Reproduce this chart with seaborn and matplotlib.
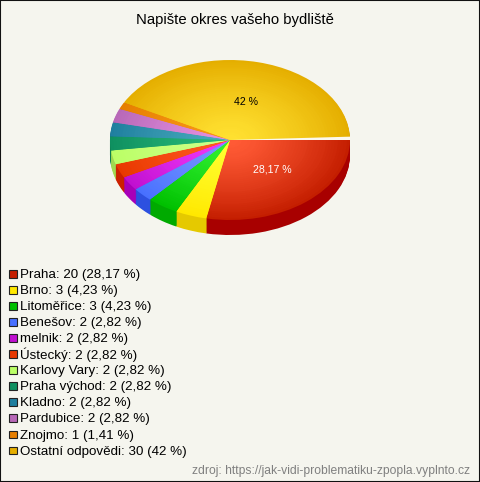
import matplotlib
matplotlib.use('Agg')
import matplotlib.pyplot as plt
from matplotlib.patches import Rectangle, Wedge
import seaborn as sns

title = 'Napište okres vašeho bydliště'
source = 'zdroj: https://jak-vidi-problematiku-zpopla.vyplnto.cz'

okresy = ['Praha', 'Brno', 'Litoměřice', 'Benešov', 'melnik', 'Ústecký', 'Karlovy Vary',
          'Praha východ', 'Kladno', 'Pardubice', 'Znojmo', 'Ostatní odpovědi']
pocty = [20, 3, 3, 2, 2, 2, 2, 2, 2, 2, 1, 30]
procenta = [28.17, 4.23, 4.23, 2.82, 2.82, 2.82, 2.82, 2.82, 2.82, 2.82, 1.41, 42]
popisky = ['28,17 %', '4,23 %', '4,23 %', '2,82 %', '2,82 %', '2,82 %', '2,82 %',
           '2,82 %', '2,82 %', '2,82 %', '1,41 %', '42 %']

# barvy: stred vysece, okraj vysece, bocni stena
stred = ['#ff5a35', '#ffff30', '#30f030', '#7896ff', '#f038f8', '#ff5a20', '#ccff88',
         '#28b878', '#48aabb', '#e490e0', '#f89818', '#ffe030']
okraj = ['#c41e00', '#ffe800', '#00c000', '#4870ff', '#c010d0', '#e83800', '#bbff66',
         '#0f9060', '#1f7f9f', '#b868b8', '#e67e00', '#e5ae00']
bok = ['#a80000', '#e5c900', '#00aa00', '#2d50e0', '#a800b8', '#cc2000', '#a0d850',
       '#0c8050', '#186a88', '#a050a0', '#cc6c00', '#cc9800']
pozadi = '#f5f5ee'

sns.set_theme(style='white', rc={'figure.facecolor': pozadi, 'axes.facecolor': pozadi})
plt.rcParams['font.family'] = ['Liberation Sans', 'DejaVu Sans']

W, H = 480, 482
fig = plt.figure(figsize=(W / 100, H / 100), dpi=100)
fig.patch.set_linewidth(0)

# pie axes: x 110-350, y 60-235 px; unit circle stretched to an ellipse
ax = fig.add_axes([110 / W, 1 - 235 / H, 240 / W, 175 / H])
hloubka = 15 / 80

for i in range(16, 0, -1):
    ax.pie([p / 100 for p in procenta], normalize=False, colors=bok, startangle=0,
           counterclock=False, center=(0, -hloubka * i / 16), radius=1, frame=True,
           wedgeprops={'linewidth': 0})

# radial gradient on the top face, darkening mostly towards the rim
kroky = 40
prechody = [sns.blend_palette([s, o], kroky) for s, o in zip(stred, okraj)]
for k in range(kroky - 1, -1, -1):
    krok_barvy = int((k / (kroky - 1)) ** 1.3 * (kroky - 1))
    ax.pie([p / 100 for p in procenta], normalize=False,
           colors=[pal[krok_barvy] for pal in prechody], startangle=0, counterclock=False,
           center=(0, 0), radius=(k + 1) / kroky, frame=True,
           wedgeprops={'linewidth': 0, 'antialiased': True})

# light sliver between the last slice and the first one
ax.add_patch(Wedge((0, 0), 1.01, 0, 2.4, facecolor='#fbf8ee', linewidth=0))

ax.set_xlim(-1, 1)
ax.set_ylim(-1 - hloubka, 1)
ax.set_aspect('auto')
ax.axis('off')

ax.text(0.35, -0.375, popisky[0], color='white', fontsize=7.6, ha='center', va='center')
ax.text(0.133, 0.475, popisky[11], color='black', fontsize=7.6, ha='center', va='center')

fig.text(234.5 / W, 1 - 20 / H, title, fontsize=10.75, color='black', ha='center', va='center')
fig.text(470 / W, 1 - 471 / H, source, fontsize=8.7, color='#808080', ha='right', va='center')

# legend rows
for i, (o, n, p, barva) in enumerate(zip(okresy, pocty, popisky, okraj)):
    y = 273.5 + 16.05 * i
    fig.add_artist(Rectangle((9 / W, 1 - (y + 4) / H), 7.5 / W, 7.5 / H, transform=fig.transFigure,
                             facecolor=barva, edgecolor='#222222', linewidth=0.8))
    fig.text(20 / W, 1 - y / H, f'{o}: {n} ({p})', fontsize=9.6, color='black',
             ha='left', va='center_baseline')

# dark frame round the picture
fig.add_artist(Rectangle((0, 0), 1, 1, transform=fig.transFigure, fill=False,
                         edgecolor='#111111', linewidth=1.5))

fig.savefig('out.png', dpi=100, facecolor=pozadi)
